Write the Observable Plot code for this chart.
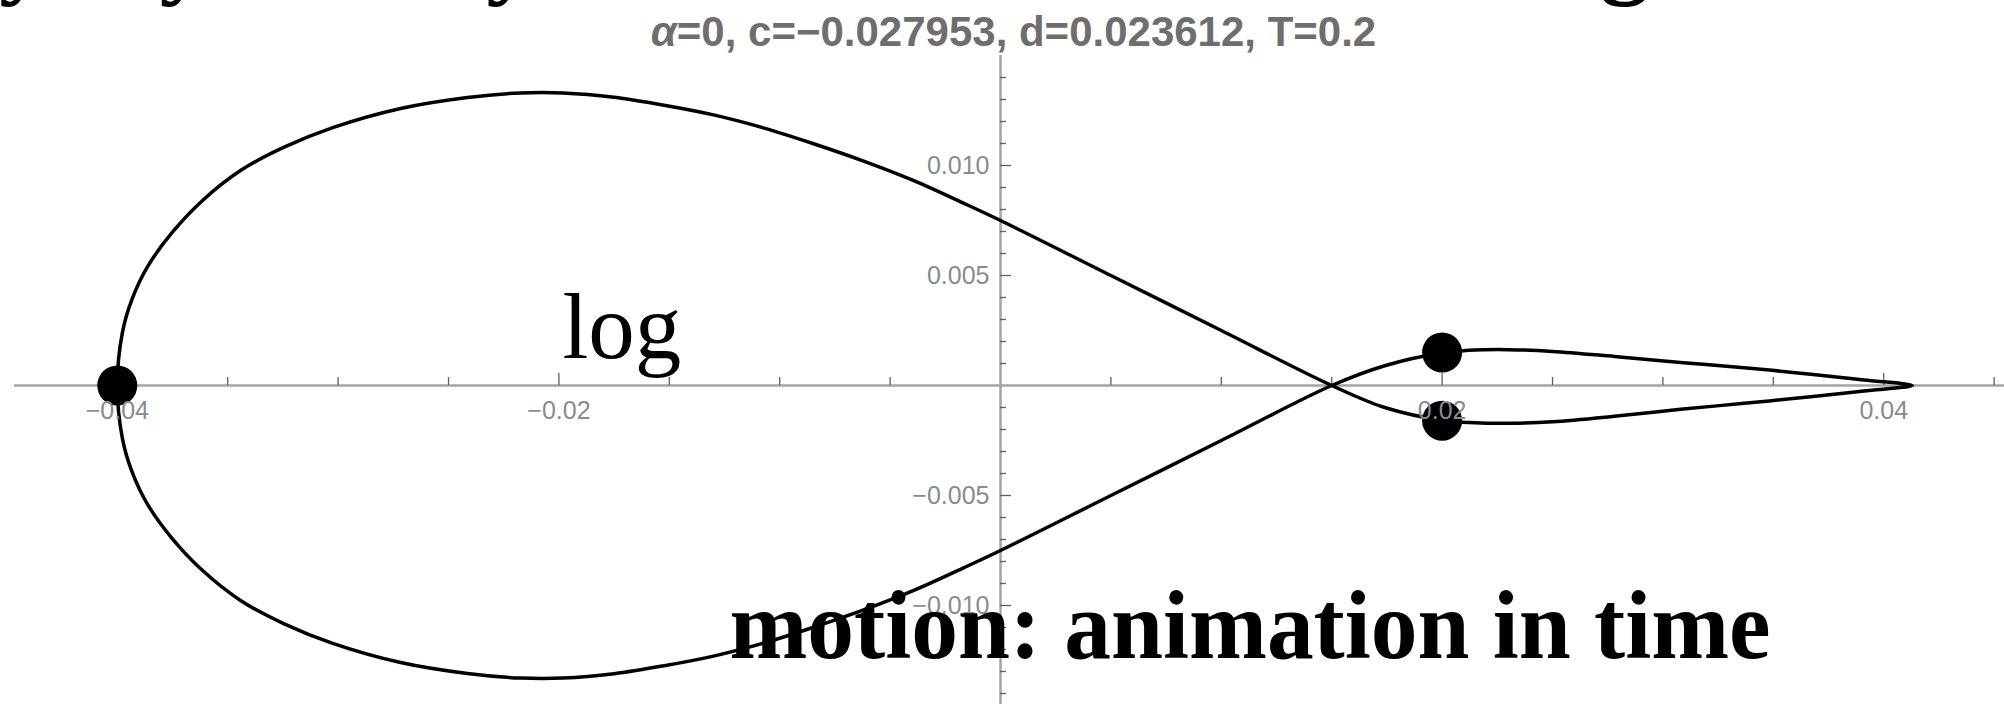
<!DOCTYPE html>
<html>
<head>
<meta charset="utf-8">
<script src="https://cdn.jsdelivr.net/npm/d3@7"></script>
<script src="https://cdn.jsdelivr.net/npm/@observablehq/plot@0.6"></script>
<style>
  html, body { margin: 0; padding: 0; background: #fff; overflow: hidden; }
  #chart svg { display: block; }
</style>
</head>
<body>
<div id="chart"></div>
<script>
// Orbit of the particle in the (x, y) plane, traced once around:
// up and over the big left loop, through the crossing, out along the
// lower edge of the thin right lobe, back along its upper edge, through
// the crossing again and round the lower left loop.
const orbitX = [
  -0.04000, -0.03977, -0.03934, -0.03863, -0.03756, -0.03615, -0.03442, -0.03247,
  -0.03021, -0.02717, -0.02414, -0.02174, -0.01980, -0.01750, -0.01530, -0.01300,
  -0.01070, -0.00850, -0.00620, -0.00390, -0.00170,  0.00000,  0.00500,  0.01000,
   0.01500,
   0.01740,  0.02010,  0.02120,  0.02300,  0.02500,  0.02780,  0.03080,  0.03380,
   0.03680,  0.03910,  0.04130,
   0.03910,  0.03680,  0.03380,  0.03080,  0.02780,  0.02500,  0.02300,  0.02120,
   0.02010,  0.01740,
   0.01500,
   0.01000,  0.00500,  0.00000, -0.00170, -0.00390, -0.00620, -0.00850, -0.01070,
  -0.01300, -0.01530, -0.01750, -0.01980, -0.02174, -0.02414, -0.02717, -0.03021,
  -0.03247, -0.03442, -0.03615, -0.03756, -0.03863, -0.03934, -0.03977
];
const orbitY = [
   0.00000,  0.00240,  0.00390,  0.00540,  0.00690,  0.00840,  0.00977,  0.01082,
   0.01173,  0.01259,  0.01309,  0.01330,  0.01330,  0.01310,  0.01275,  0.01230,
   0.01170,  0.01100,  0.01020,  0.00930,  0.00830,  0.00750,  0.00500,  0.00250,
   0.00000,
  -0.00100, -0.00160, -0.00168, -0.00172, -0.00165, -0.00140, -0.00108, -0.00080,
  -0.00050, -0.00025,  0.00000,
   0.00025,  0.00050,  0.00080,  0.00105,  0.00132,  0.00155,  0.00163,  0.00160,
   0.00150,  0.00090,
   0.00000,
  -0.00250, -0.00500, -0.00750, -0.00830, -0.00930, -0.01020, -0.01100, -0.01170,
  -0.01230, -0.01275, -0.01310, -0.01330, -0.01330, -0.01309, -0.01259, -0.01173,
  -0.01082, -0.00977, -0.00840, -0.00690, -0.00540, -0.00390, -0.00240
];

// Bodies at time T
const bodyX = [-0.04, 0.02, 0.02];
const bodyY = [0.0, 0.0015, -0.0016];

// Axis ticks
const xMinorTicks = [-0.035, -0.03, -0.025, -0.015, -0.01, -0.005,
                     0.005, 0.01, 0.015, 0.025, 0.03, 0.035, 0.045];
const xMajorTicks = [-0.04, -0.02, 0.02, 0.04];
const yMinorTicks = [0.014, 0.013, 0.012, 0.011, 0.009, 0.008, 0.007, 0.006,
                     0.004, 0.003, 0.002, 0.001,
                     -0.001, -0.002, -0.003, -0.004, -0.006, -0.007, -0.008, -0.009,
                     -0.011, -0.012, -0.013, -0.014];
const yMajorTicks = [0.010, 0.005, -0.005, -0.010];

// Slide text
const titleText = "α=0, c=−0.027953, d=0.023612, T=0.2";
const headingText = "Symmetry: by the key role: motion in the full log";
const logNote = "log";
const motionNote = "motion: animation in time";

const orbit = orbitX.map((x, i) => ({x, y: orbitY[i]}));
const bodies = bodyX.map((x, i) => ({x, y: bodyY[i]}));

const axisGray = "#a4a4a4";
const tickGray = "#5f5f5f";
const labelGray = "#878b92";
const sans = "'Liberation Sans', Arial, Helvetica, sans-serif";
const serif = "'Liberation Serif', 'Times New Roman', serif";

const chart = Plot.plot({
  width: 2004,
  height: 704,
  margin: 0,
  style: {background: "#fff"},
  x: {domain: [-0.04529, 0.04547], axis: null},
  y: {domain: [-0.0145, 0.0175], axis: null},
  marks: [
    // axes through the origin
    Plot.ruleY([0], {stroke: axisGray, strokeWidth: 2.5, insetLeft: 14}),
    Plot.ruleX([0], {stroke: axisGray, strokeWidth: 2.5, insetTop: 55}),
    // ticks pointing into the plot
    Plot.ruleX(xMinorTicks, {x: d => d, y1: 0, y2: 0, insetTop: -8, stroke: tickGray, strokeWidth: 1.3}),
    Plot.ruleX(xMajorTicks, {x: d => d, y1: 0, y2: 0, insetTop: -12, stroke: tickGray, strokeWidth: 1.3}),
    Plot.ruleY(yMinorTicks, {y: d => d, x1: 0, x2: 0, insetRight: -6, stroke: tickGray, strokeWidth: 1.3}),
    Plot.ruleY(yMajorTicks, {y: d => d, x1: 0, x2: 0, insetRight: -11, stroke: tickGray, strokeWidth: 1.3}),
    // the orbit
    Plot.line(orbit, {x: "x", y: "y", curve: "catmull-rom-closed", stroke: "#000", strokeWidth: 3.5}),
    // the bodies
    Plot.dot(bodies, {x: "x", y: "y", r: 20, fill: "#000", stroke: "none"}),
    // tick labels
    Plot.text(xMajorTicks, {x: d => d, y: 0, text: d3.format(".2f"), dy: 25,
      fill: labelGray, fontSize: 25, fontFamily: sans}),
    Plot.text(yMajorTicks, {x: 0, y: d => d, text: d3.format(".3f"), dx: -11, textAnchor: "end",
      fill: labelGray, fontSize: 25, fontFamily: sans}),
    // plot title
    Plot.text([titleText], {text: d => d, frameAnchor: "top-left", dx: 1013, dy: 45,
      lineAnchor: "bottom", textAnchor: "middle", fill: "#6e6e6e", fontSize: 42,
      fontWeight: "bold", fontFamily: sans}),
    // slide heading, mostly above the visible area
    Plot.text([headingText], {text: d => d, frameAnchor: "top-left", dx: -388, dy: -15,
      lineAnchor: "bottom", textAnchor: "start", fill: "#000", fontSize: 98,
      fontWeight: "bold", fontFamily: serif}),
    Plot.text([logNote], {text: d => d, frameAnchor: "top-left", dx: 562, dy: 357,
      lineAnchor: "bottom", textAnchor: "start", fill: "#000", fontSize: 93, fontFamily: serif}),
    Plot.text([motionNote], {text: d => d, frameAnchor: "top-left", dx: 729, dy: 657,
      lineAnchor: "bottom", textAnchor: "start", fill: "#000", fontSize: 98,
      fontWeight: "bold", fontFamily: serif})
  ]
});

for (const t of chart.querySelectorAll("text")) {
  // italic alpha in the title
  if (t.textContent === titleText) {
    t.textContent = "";
    const a = document.createElementNS("http://www.w3.org/2000/svg", "tspan");
    a.setAttribute("font-style", "italic");
    a.textContent = "α";
    t.appendChild(a);
    t.appendChild(document.createTextNode(titleText.slice(1)));
  }
  // slightly condensed caption
  if (t.textContent === motionNote) {
    t.setAttribute("textLength", 1041);
    t.setAttribute("lengthAdjust", "spacingAndGlyphs");
  }
}

document.getElementById("chart").appendChild(chart);
</script>
</body>
</html>
